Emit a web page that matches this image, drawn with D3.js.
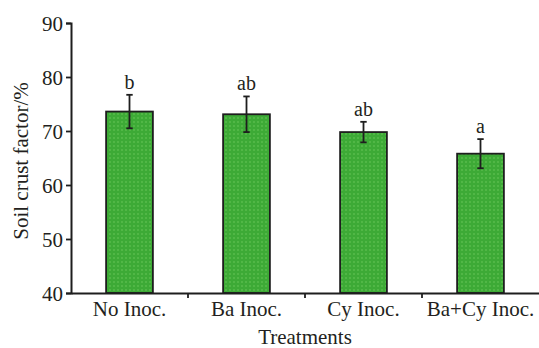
<!DOCTYPE html>
<html><head><meta charset="utf-8">
<script src="https://cdn.jsdelivr.net/npm/d3@7"></script>
<style>body{margin:0;background:#fff}svg{display:block}text{font-family:"Liberation Serif","Times New Roman",serif;fill:#231f20}</style>
</head><body>
<svg id="c" width="539" height="348"></svg>
<script>
const categories = ["No Inoc.", "Ba Inoc.", "Cy Inoc.", "Ba+Cy Inoc."];
const means = [73.6, 73.1, 69.8, 65.8];
const errors = [3.1, 3.3, 1.9, 2.7];
const letters = ["b", "ab", "ab", "a"];
const yTicks = [40, 50, 60, 70, 80, 90];

const svg = d3.select("#c");
const m = {l: 71, r: 0, t: 23, b: 55};
const W = 539, H = 348;
const x = d3.scaleBand().domain(categories).range([m.l, W - m.r]).paddingInner(0.6).paddingOuter(0.3);
const y = d3.scaleLinear().domain([40, 90]).range([H - m.b, m.t]);

const defs = svg.append("defs");
const pat = defs.append("pattern").attr("id", "dots").attr("patternUnits", "userSpaceOnUse").attr("width", 4).attr("height", 4);
pat.append("rect").attr("width", 4).attr("height", 4).attr("fill", "#3daa36");
pat.append("circle").attr("cx", 2).attr("cy", 2).attr("r", 0.9).attr("fill", "#5abd4e");

const g = svg.append("g");
g.selectAll("rect.bar").data(categories).join("rect").attr("class", "bar")
  .attr("x", d => x(d)).attr("width", x.bandwidth())
  .attr("y", (d, i) => y(means[i])).attr("height", (d, i) => y(40) - y(means[i]))
  .attr("fill", "url(#dots)").attr("stroke", "#1e1e1e").attr("stroke-width", 1.8);

const eb = g.selectAll("g.eb").data(categories).join("g").attr("class", "eb")
  .attr("transform", d => `translate(${x(d) + x.bandwidth() / 2},0)`);
eb.append("line").attr("y1", (d, i) => y(means[i] + errors[i])).attr("y2", (d, i) => y(means[i] - errors[i]))
  .attr("stroke", "#1e1e1e").attr("stroke-width", 1.8);
[1, -1].forEach(s => {
  eb.append("line").attr("x1", -3.2).attr("x2", 3.2)
    .attr("y1", (d, i) => y(means[i] + s * errors[i])).attr("y2", (d, i) => y(means[i] + s * errors[i]))
    .attr("stroke", "#1e1e1e").attr("stroke-width", 1.8);
});
eb.append("text").attr("text-anchor", "middle").attr("font-size", 20)
  .attr("y", (d, i) => y(means[i] + errors[i]) - 6).text((d, i) => letters[i]);

// y axis
const ya = svg.append("g").attr("transform", `translate(${m.l},0)`)
  .call(d3.axisLeft(y).tickValues(yTicks).tickSize(5).tickPadding(3))
  .attr("font-family", "Liberation Serif").attr("font-size", 21);
ya.select(".domain").attr("stroke", "#1e1e1e").attr("stroke-width", 2);
ya.selectAll(".tick line").attr("stroke", "#1e1e1e").attr("stroke-width", 1.8);
ya.selectAll(".tick text").attr("dy", "0.34em").attr("fill", "#231f20");

// x axis
const xa = svg.append("g").attr("transform", `translate(0,${y(40)})`)
  .call(d3.axisBottom(x).tickSize(0).tickPadding(8))
  .attr("font-family", "Liberation Serif").attr("font-size", 21);
xa.select(".domain").attr("stroke", "#1e1e1e").attr("stroke-width", 2);
xa.selectAll(".tick text").attr("dy", "0.71em").attr("fill", "#231f20");
const bounds = categories.map(c => x(c) - x.step() * x.paddingInner() / 2).slice(1);
xa.selectAll("line.sep").data(bounds).join("line").attr("class", "sep")
  .attr("x1", d => d).attr("x2", d => d).attr("y1", 0).attr("y2", 5)
  .attr("stroke", "#1e1e1e").attr("stroke-width", 1.8);

svg.append("text").attr("x", (m.l + W) / 2).attr("y", 344).attr("text-anchor", "middle")
  .attr("font-size", 21).text("Treatments");
svg.append("text").attr("transform", `translate(28,${(y(40) + y(90)) / 2 + 3}) rotate(-90)`)
  .attr("text-anchor", "middle").attr("font-size", 21).text("Soil crust factor/%");
</script>
</body></html>
